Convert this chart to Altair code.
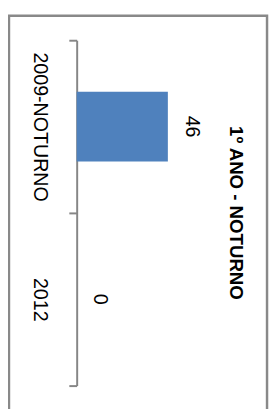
import altair as alt
import pandas as pd

categories = ["2009-NOTURNO", "2012"]
values = [46, 0]
title_text = ["1º ANO - NOTURNO"]

df = pd.DataFrame({"cat": categories, "val": values})
df_title = pd.DataFrame({"t": title_text})
df_frame = pd.DataFrame({"a": [0]})

W, H = 101, 352

y_enc = alt.Y(
    "cat:N",
    sort=categories,
    scale=alt.Scale(paddingInner=0, paddingOuter=0),
    axis=alt.Axis(
        title=None, labelAngle=90, labelAlign="center", labelBaseline="middle",
        labelPadding=30, tickSize=8, tickBand="extent",
        domainColor="#868686", tickColor="#868686", domainWidth=2, tickWidth=2,
        labelFont="Liberation Sans", labelFontSize=20, labelColor="#000000",
        grid=False, labelLimit=300,
    ),
)
x_enc = alt.X("val:Q", scale=alt.Scale(domain=[0, 50]), axis=None)

frame = alt.Chart(df_frame).mark_rect(
    fillOpacity=0, stroke="#898989", strokeWidth=2.5
).encode(
    x=alt.value(-69), x2=alt.value(194), y=alt.value(-25), y2=alt.value(440)
)

bars = alt.Chart(df).mark_bar(size=71, color="#4F81BD").encode(x=x_enc, y=y_enc)

labels = alt.Chart(df).mark_text(
    angle=90, dy=-24, align="center", baseline="middle",
    font="Liberation Sans", fontSize=20, color="#000000"
).encode(x=x_enc, y=y_enc, text="val:Q")

title = alt.Chart(df_title).mark_text(
    angle=90, align="center", baseline="middle",
    font="Liberation Sans", fontSize=19, fontWeight="bold", color="#000000"
).encode(x=alt.value(162), y=alt.value(176), text="t:N")

chart = alt.layer(frame, bars, labels, title).properties(
    width=W, height=H,
    padding={"left": 70, "top": 29, "right": 95, "bottom": 20},
    autosize=alt.AutoSizeParams(type="none"),
).configure_view(strokeWidth=0)

chart.save("out.html", embed_options={"renderer": "svg", "actions": False})
